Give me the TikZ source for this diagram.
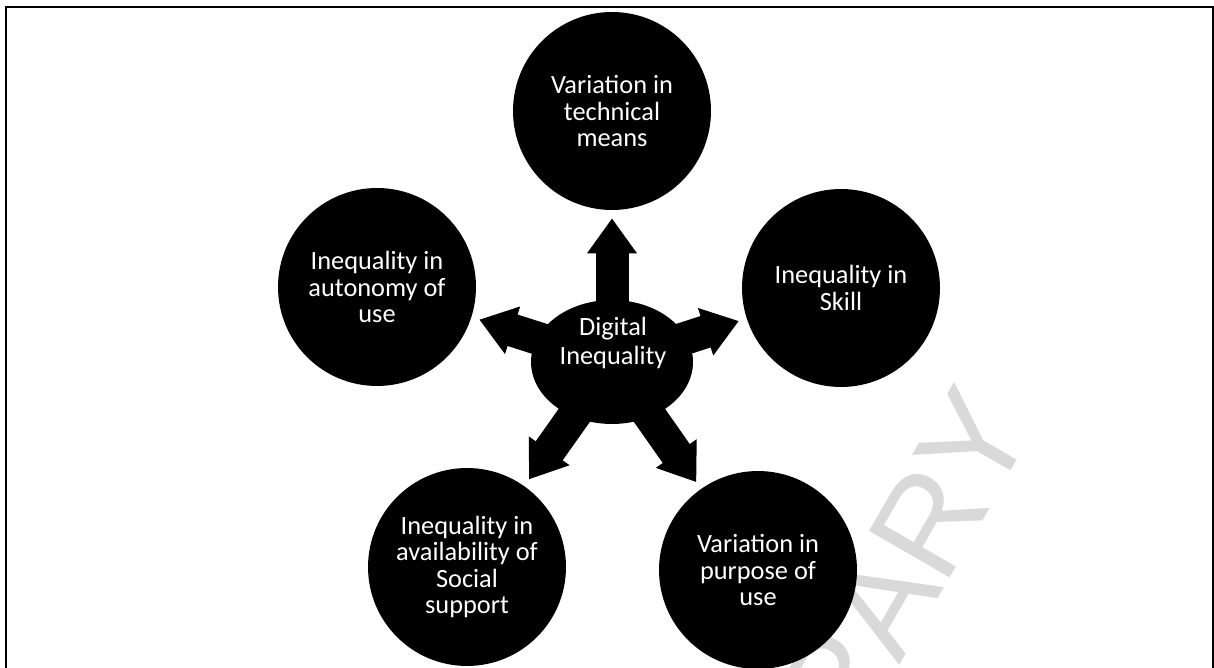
\documentclass[tikz,border=0pt]{standalone}
\usepackage{fontspec}
\setmainfont{Carlito}
\newfontfamily\markfont{Liberation Sans}
\usetikzlibrary{arrows.meta,shapes.geometric}

\begin{document}
\begin{tikzpicture}[x=0.02cm,y=-0.02cm,
  ball/.style={circle,fill=black,text=white,minimum size=3.96cm,inner sep=0pt,
    align=center,font=\fontsize{15}{15}\selectfont},
  hub/.style={ellipse,fill=black,minimum width=3.24cm,minimum height=2.48cm,inner sep=0pt},
  spoke/.style={line width=0.66cm,-{Triangle[length=0.7cm,width=0.95cm]},
    shorten <=-0.16cm,shorten >=0.16cm}]
\useasboundingbox (0,0) rectangle (1214,668);
\node[text=black!15,font=\markfont\fontsize{77}{77}\selectfont,rotate=60,anchor=base east]
  (mark) at (1040,421) {LIBRARY};
\draw[line width=0.04cm] (6,668) |- (1213,7.5) -- (1213,668);
\node[hub] (hub) at (612,362) {};
\node[text=white,align=center,font=\fontsize{15}{17}\selectfont] (hubtxt) at (613,343) {Digital\\Inequality};
\node[ball] (means) at (612,111) {Variation in\\technical\\means};
\node[ball] (skill) at (841,288) {Inequality in\\Skill};
\node[ball] (autonomy) at (377,287) {Inequality in\\autonomy of\\use};
\node[ball] (support) at (467,567) {Inequality in\\availability of\\Social\\support};
\node[ball] (purpose) at (758,570) {Variation in\\purpose of\\use};
\foreach \t in {means,skill,autonomy,support,purpose}
  \draw[spoke] (hub) -- (\t);
\end{tikzpicture}
\end{document}
